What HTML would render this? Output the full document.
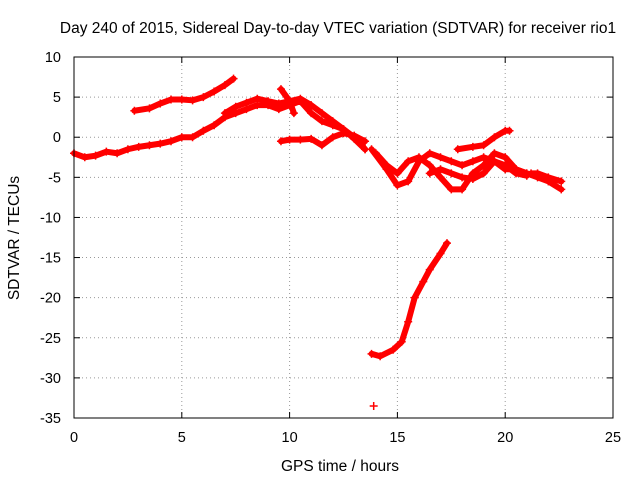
<!DOCTYPE html>
<html><head><meta charset="utf-8"><style>
body{margin:0;background:#fff}
svg{display:block;font-family:"Liberation Sans",sans-serif}
</style></head><body>
<svg id="chart" width="640" height="480">
<rect width="640" height="480" fill="#fff"/>
<text x="338" y="33" font-size="15.5" text-anchor="middle">Day 240 of 2015, Sidereal Day-to-day VTEC variation (SDTVAR) for receiver rio1</text>
<text x="340" y="471" font-size="15.5" text-anchor="middle">GPS time / hours</text>
<text transform="translate(19,238) rotate(-90)" font-size="15.5" text-anchor="middle">SDTVAR / TECUs</text>
<g id="grid"></g><g id="ticks"></g><g id="marks"></g>
<rect x="74" y="57" width="539" height="361" fill="none" stroke="#000"/>
</svg>
<script>
const xTicks=[0,5,10,15,20,25];
const yTicks=[10,5,0,-5,-10,-15,-20,-25,-30,-35];
const trackA=[[0,-2],[0.5,-2.5],[1,-2.3],[1.5,-1.8],[2,-2],[2.5,-1.5],[3,-1.2],[3.5,-1],[4,-0.8],[4.5,-0.5],[5,0],[5.5,0],[6,0.8],[6.5,1.5],[7,2.5],[7.5,3],[8,3.5],[8.5,4],[9,4],[9.5,3.5],[10,4],[10.5,4.5],[11,3],[11.5,2],[12,1.5],[12.5,1],[13,0],[13.5,-1.5]];
const trackB=[[2.8,3.3],[3.5,3.6],[4,4.2],[4.5,4.7],[5,4.7],[5.5,4.6],[6,5],[6.5,5.7],[7,6.5],[7.4,7.3]];
const trackC=[[7,3],[7.5,3.8],[8,4.3],[8.5,4.8],[9,4.5],[9.5,4.2],[10,4.5],[10.5,4.8],[11,4],[11.5,3],[12,2],[12.5,1],[13,-0.2],[13.5,-1.5]];
const trackD=[[9.6,6],[10,4.5],[10.2,3]];
const trackE=[[9.6,-0.5],[10,-0.3],[10.5,-0.3],[11,-0.2],[11.5,-1],[12,0],[12.5,0.5],[13,0.2],[13.5,-0.5]];
const trackF=[[13.8,-1.5],[14.5,-4],[15,-6],[15.5,-5.5],[16,-3],[16.5,-2],[17,-2.5],[17.5,-3],[18,-3.5],[18.5,-3],[19,-2.5],[19.5,-3],[20,-4],[20.5,-4],[21,-4.5]];
const trackG=[[14,-2],[14.5,-3.5],[15,-4.5],[15.5,-3],[16,-2.5],[16.5,-3.5],[17,-5],[17.5,-6.5],[18,-6.5],[18.5,-4.5],[19,-3.5],[19.5,-2],[20,-2.5],[20.5,-4],[21,-4.5],[21.5,-5],[22,-5.5],[22.6,-6.5]];
const trackH=[[17.8,-1.5],[18.5,-1.2],[19,-1],[19.5,0],[20,0.8],[20.2,0.8]];
const trackI=[[16.5,-4.5],[17,-4],[17.5,-4.5],[18,-5],[18.5,-5.2],[19,-4.5],[19.5,-3],[20,-3.5],[20.5,-4.5],[21,-4.8]];
const trackJ=[[21.2,-4.5],[21.5,-4.5],[22,-5],[22.6,-5.5]];
const trackK=[[13.8,-27],[14.2,-27.3],[14.8,-26.5],[15.2,-25.5],[15.5,-23],[15.8,-20],[16.2,-18],[16.5,-16.5],[17,-14.5],[17.3,-13.2]];
const outlier=[[13.9,-33.5]];
const tracks=[trackA,trackB,trackC,trackD,trackE,trackF,trackG,trackH,trackI,trackJ,trackK,outlier];
const X=v=>74+v*(539/25), Y=v=>57+(10-v)*(361/45);
const NS="http://www.w3.org/2000/svg";
const grid=document.getElementById('grid'),ticks=document.getElementById('ticks'),marks=document.getElementById('marks');
function mk(t,a,p){const e=document.createElementNS(NS,t);for(const k in a)e.setAttribute(k,a[k]);p.appendChild(e);return e;}
xTicks.forEach(v=>{
 if(v>0&&v<25){const g=mk('line',{x1:X(v),x2:X(v),y1:57,y2:418,stroke:'#999','stroke-dasharray':'1,3'},grid);
 
 }
 mk('line',{x1:X(v),x2:X(v),y1:418,y2:412,stroke:'#000'},ticks);
 mk('line',{x1:X(v),x2:X(v),y1:57,y2:63,stroke:'#000'},ticks);
 const t=mk('text',{x:X(v),y:442,'font-size':14.5,'text-anchor':'middle'},ticks);t.textContent=v;
 
 
});
yTicks.forEach(v=>{
 if(v<10&&v>-35){const g=mk('line',{x1:74,x2:613,y1:Y(v),y2:Y(v),stroke:'#999','stroke-dasharray':'1,3'},grid);
 
 }
 mk('line',{x1:74,x2:80,y1:Y(v),y2:Y(v),stroke:'#000'},ticks);
 mk('line',{x1:613,x2:607,y1:Y(v),y2:Y(v),stroke:'#000'},ticks);
 const t=mk('text',{x:61,y:Y(v)+5,'font-size':14.5,'text-anchor':'end'},ticks);t.textContent=v;
 
 
});
tracks.forEach((tr,i)=>{
 if(tr.length>1){const p=mk('polyline',{points:tr.map(d=>X(d[0])+','+Y(d[1])).join(' '),fill:'none',stroke:'#f00','stroke-width':6,'stroke-linejoin':'round','stroke-linecap':'round'},marks);
 
 }
 tr.forEach(d=>{const x=X(d[0]),y=Y(d[1]);
  const m=mk('path',{d:`M${x-4},${y}H${x+4}M${x},${y-4}V${y+4}`,stroke:'#f00','stroke-width':1.5},marks);
  
  
 });
});
</script>
</body></html>
